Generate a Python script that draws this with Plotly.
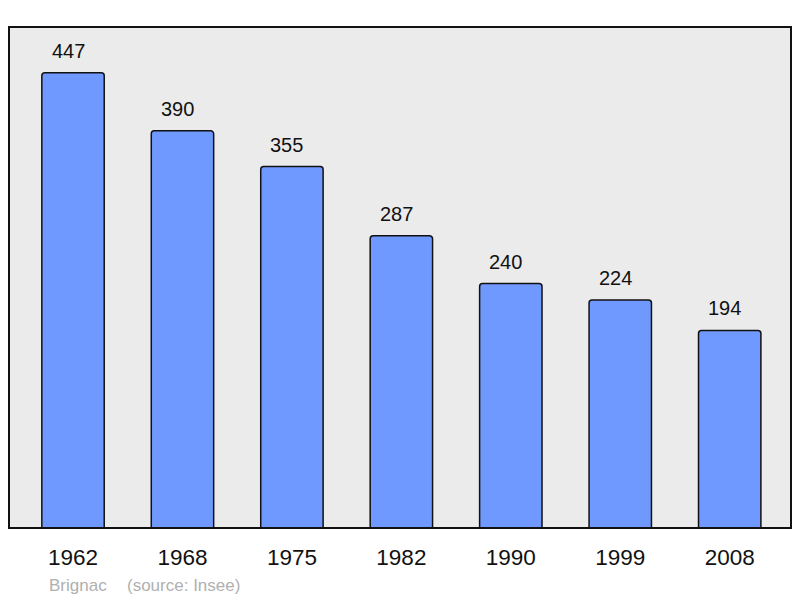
import plotly.graph_objects as go

years = ["1962", "1968", "1975", "1982", "1990", "1999", "2008"]
population = [447, 390, 355, 287, 240, 224, 194]

FONT = "Liberation Sans, Arial, sans-serif"

fig = go.Figure()
fig.add_trace(go.Bar(
    x=years, y=population, width=0.57,
    marker=dict(color="#7099ff", line=dict(color="#111111", width=1.5), cornerradius=3),
    hoverinfo="skip",
))
for i, v in enumerate(population):
    fig.add_annotation(x=i, y=v, text=str(v), showarrow=False, yanchor="bottom",
                       yshift=9, xshift=-5, font=dict(size=20, color="#111111", family=FONT))

fig.add_shape(type="rect", xref="paper", yref="paper", x0=0, x1=1, y0=0, y1=1,
              line=dict(color="#111111", width=2), layer="above")

fig.add_annotation(xref="paper", yref="paper", x=(47 - 9) / 782, y=-(585 - 528) / 501,
                   text="Brignac", showarrow=False, xanchor="left", yanchor="middle",
                   font=dict(size=17, color="#b0b0b0", family=FONT))
fig.add_annotation(xref="paper", yref="paper", x=(125 - 9) / 782, y=-(585 - 528) / 501,
                   text="(source: Insee)", showarrow=False, xanchor="left", yanchor="middle",
                   font=dict(size=17, color="#b0b0b0", family=FONT))

fig.update_layout(
    width=800, height=598,
    margin=dict(l=9, r=9, t=27, b=70),
    paper_bgcolor="white", plot_bgcolor="#ebebeb",
    showlegend=False,
    font=dict(family=FONT, color="#111111"),
)
fig.update_xaxes(type="category", range=[-0.585, 6.56], showgrid=False, zeroline=False,
                 ticks="outside", ticklen=9, tickcolor="rgba(0,0,0,0)",
                 tickfont=dict(size=22.5, color="#111111"), fixedrange=True)
fig.update_yaxes(range=[0, 492], showgrid=False, zeroline=False, showticklabels=False,
                 fixedrange=True)

fig.write_html("out.html", config={"displayModeBar": False},
               post_script="document.body.style.margin='0';document.body.style.overflow='hidden';")
